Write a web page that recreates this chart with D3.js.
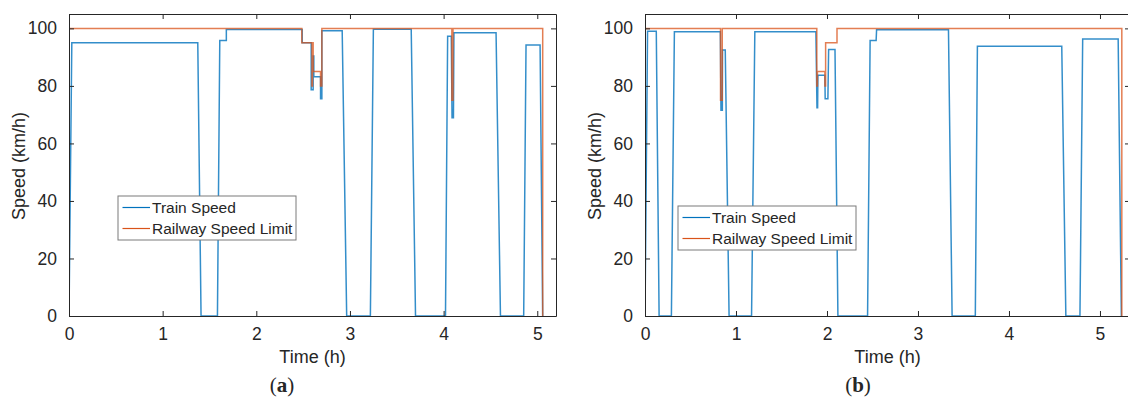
<!DOCTYPE html>
<html>
<head>
<meta charset="utf-8">
<script src="https://cdn.jsdelivr.net/npm/d3@7"></script>
<style>
  html, body { margin: 0; padding: 0; background: #fff; }
  svg { display: block; }
  text { font-family: "Liberation Sans", Arial, Helvetica, sans-serif; fill: #262626; }
</style>
</head>
<body>
<svg id="fig" width="1128" height="397"></svg>
<script>
// ---- shared axis settings ----
const speedTicks = [0, 20, 40, 60, 80, 100];
const timeTicks = [0, 1, 2, 3, 4, 5];
const seriesNames = ["Train Speed", "Railway Speed Limit"];
const seriesColors = ["#0072BD", "#D95319"];

// ---- panel (a) ----
const trainTimeA = [0, 0.03, 1.375, 1.41, 1.585, 1.61, 1.68, 1.68, 2.49, 2.49, 2.586, 2.586, 2.607, 2.607, 2.614, 2.614,
  2.686, 2.686, 2.70, 2.70, 2.917, 2.965, 3.218, 3.25, 3.654, 3.70, 4.02, 4.043, 4.082, 4.09, 4.105, 4.11,
  4.56, 4.607, 4.855, 4.88, 5.03, 5.058];
const trainSpeedA = [0, 95, 95, 0, 0, 95.8, 95.8, 99.6, 99.6, 95, 95, 78.7, 78.7, 90.4, 90.4, 83.2,
  83.2, 75.5, 75.5, 99.2, 99.2, 0, 0, 99.7, 99.7, 0, 0, 97.3, 97.3, 68.9, 68.9, 98.5,
  98.5, 0, 0, 94.2, 94.2, 0];
const limitTimeA = [0, 2.486, 2.486, 2.594, 2.594, 2.600, 2.600, 2.607, 2.607, 2.686, 2.686, 2.70, 2.70,
  4.088, 4.088, 4.10, 4.10, 5.058, 5.058];
const limitSpeedA = [100, 100, 95, 95, 80, 80, 95, 95, 85, 85, 80, 80, 100,
  100, 75, 75, 100, 100, 0];

// ---- panel (b) ----
const trainTimeB = [0, 0.028, 0.124, 0.155, 0.29, 0.323, 0.828, 0.835, 0.85, 0.852, 0.882, 0.924, 1.171, 1.207,
  1.878, 1.89, 1.897, 1.90, 1.977, 1.98, 2.01, 2.018, 2.088, 2.12, 2.446, 2.474, 2.54, 2.545,
  3.335, 3.375, 3.63, 3.653, 4.58, 4.625, 4.78, 4.81, 5.20, 5.235];
const trainSpeedB = [0, 99, 99, 0, 0, 98.8, 98.8, 71.5, 71.5, 92.5, 92.5, 0, 0, 98.8,
  98.8, 72.4, 72.4, 83.7, 83.7, 75.5, 75.5, 92.7, 92.7, 0, 0, 95.8, 95.8, 99.5,
  99.5, 0, 0, 93.8, 93.8, 0, 0, 96.3, 96.3, 0];
const limitTimeB = [0, 0.83, 0.83, 0.849, 0.849, 1.888, 1.888, 1.895, 1.895, 1.977, 1.977, 1.985, 1.985,
  2.11, 2.11, 5.24, 5.24];
const limitSpeedB = [100, 100, 75, 75, 100, 100, 80, 80, 85, 85, 80, 80, 95,
  95, 100, 100, 0];

const panels = [
  { id: "a", left: 69, right: 556, tMax: 5.2, trainT: trainTimeA, trainV: trainSpeedA,
    limitT: limitTimeA, limitV: limitSpeedA, legend: { x: 118, y: 196 }, caption: 282 },
  { id: "b", left: 645, right: 1130, tMax: 5.33, trainT: trainTimeB, trainV: trainSpeedB,
    limitT: limitTimeB, limitV: limitSpeedB, legend: { x: 678, y: 206 }, caption: 858 }
];

const plotTop = 14, plotBottom = 316;
const svg = d3.select("#fig");

panels.forEach((p) => {
  const x = d3.scaleLinear().domain([0, p.tMax]).range([p.left, p.right]);
  const y = d3.scaleLinear().domain([0, 105]).range([plotBottom, plotTop]);
  const g = svg.append("g");

  g.append("clipPath").attr("id", "clip" + p.id)
    .append("rect").attr("x", p.left).attr("y", plotTop)
    .attr("width", p.right - p.left).attr("height", plotBottom - plotTop);

  // curves: train first, limit drawn over it
  const line = d3.line().x(d => x(d[0])).y(d => y(d[1]));
  const plot = g.append("g").attr("clip-path", `url(#clip${p.id})`);
  plot.append("path")
    .datum(d3.zip(p.trainT, p.trainV))
    .attr("fill", "none").attr("stroke", seriesColors[0])
    .attr("stroke-width", 1.5).attr("stroke-opacity", 0.8)
    .attr("d", line);
  plot.append("path")
    .datum(d3.zip(p.limitT, p.limitV))
    .attr("fill", "none").attr("stroke", seriesColors[1])
    .attr("stroke-width", 1.5).attr("stroke-opacity", 0.75)
    .attr("d", line);

  // axes on all four sides, ticks pointing inward
  const axisStyle = sel => {
    sel.select(".domain").attr("stroke", "#262626").attr("stroke-width", 1);
    sel.selectAll(".tick line").attr("stroke", "#262626");
    sel.selectAll("text").attr("font-size", "17.5px").attr("fill", "#262626")
      .style("font-family", '"Liberation Sans", Arial, sans-serif');
  };
  g.append("g").attr("transform", `translate(0,${plotBottom})`)
    .call(d3.axisBottom(x).tickValues(timeTicks).tickFormat(d3.format("d"))
      .tickSizeInner(-5).tickSizeOuter(0).tickPadding(12))
    .call(axisStyle);
  g.append("g").attr("transform", `translate(0,${plotTop})`)
    .call(d3.axisTop(x).tickValues(timeTicks).tickFormat("")
      .tickSizeInner(-5).tickSizeOuter(0))
    .call(axisStyle);
  g.append("g").attr("transform", `translate(${p.left},0)`)
    .call(d3.axisLeft(y).tickValues(speedTicks).tickFormat(d3.format("d"))
      .tickSizeInner(-5).tickSizeOuter(0).tickPadding(12))
    .call(axisStyle);
  g.append("g").attr("transform", `translate(${p.right},0)`)
    .call(d3.axisRight(y).tickValues(speedTicks).tickFormat("")
      .tickSizeInner(-5).tickSizeOuter(0))
    .call(axisStyle);

  // axis titles
  g.append("text")
    .attr("x", (p.left + p.right) / 2).attr("y", 363)
    .attr("text-anchor", "middle").attr("font-size", "18px")
    .text("Time (h)");
  g.append("text")
    .attr("transform", `translate(${p.left - 44},166) rotate(-90)`)
    .attr("text-anchor", "middle").attr("font-size", "18px")
    .text("Speed (km/h)");

  // legend
  const L = g.append("g").attr("transform", `translate(${p.legend.x},${p.legend.y})`);
  L.append("rect").attr("x", 0).attr("y", 0).attr("width", 178).attr("height", 44)
    .attr("fill", "#fff").attr("stroke", "#7a7a7a").attr("stroke-width", 1);
  seriesNames.forEach((name, k) => {
    const ry = 11.5 + k * 21;
    L.append("line").attr("x1", 4.5).attr("x2", 32).attr("y1", ry).attr("y2", ry)
      .attr("stroke", seriesColors[k]).attr("stroke-width", 1.2);
    L.append("text").attr("x", 34).attr("y", ry + 5.5)
      .attr("font-size", "15.5px").attr("fill", "#000").text(name);
  });

  // panel caption
  const cap = g.append("text")
    .attr("x", p.caption).attr("y", 392).attr("text-anchor", "middle")
    .attr("font-size", "21px").style("font-family", '"Liberation Serif", "Times New Roman", serif')
    .attr("fill", "#000");
  cap.append("tspan").text("(");
  cap.append("tspan").attr("font-weight", "bold").text(p.id);
  cap.append("tspan").text(")");
});
</script>
</body>
</html>
